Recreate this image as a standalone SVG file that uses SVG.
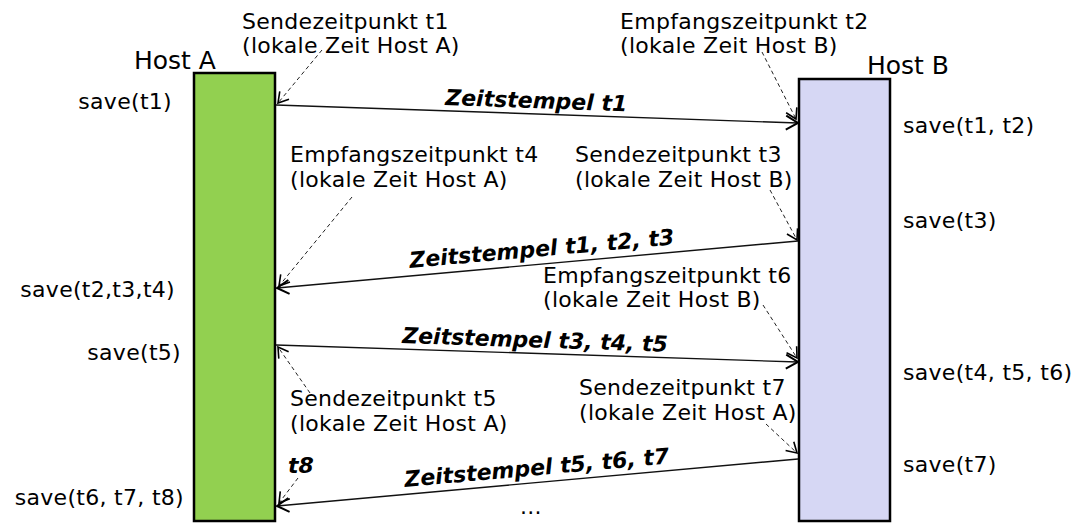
<svg xmlns="http://www.w3.org/2000/svg" width="1087" height="532" viewBox="0 0 1087 532">
<style>
text{font-family:"DejaVu Sans","Verdana",sans-serif;fill:#000}
.lbl{font-size:22px;letter-spacing:0.3px}
.host{font-size:25px}
.ts{font-size:22px;font-weight:bold;font-style:italic}
.msg{stroke:#111;stroke-width:1.4;fill:none}
.dash{stroke:#222;stroke-width:1;stroke-dasharray:4,3;fill:none}
</style>
<defs>
<marker id="ah" markerUnits="userSpaceOnUse" markerWidth="18" markerHeight="18" refX="14" refY="8" orient="auto">
<path d="M2,1 L14,8 L2,15" fill="none" stroke="#000" stroke-width="2"/>
</marker>
<marker id="ahd" markerUnits="userSpaceOnUse" markerWidth="16" markerHeight="16" refX="12" refY="7" orient="auto">
<path d="M2,1 L12,7 L2,13" fill="none" stroke="#000" stroke-width="1.6"/>
</marker>
</defs>
<rect width="1087" height="532" fill="#fff"/>
<g id="hostA">
<rect x="194" y="73" width="81" height="448" fill="#92d050" stroke="#000" stroke-width="2.5"/>
<text class="host" x="134" y="69">Host A</text>
</g>
<g id="hostB">
<rect x="799" y="79" width="91" height="442" fill="#d6d7f4" stroke="#000" stroke-width="2.5"/>
<text class="host" x="867" y="74">Host B</text>
</g>
<g id="connectors">
<line class="msg" x1="276" y1="105" x2="798" y2="123" marker-end="url(#ah)"/>
<line class="msg" x1="798" y1="241" x2="277" y2="288" marker-end="url(#ah)"/>
<line class="msg" x1="276" y1="345" x2="798" y2="362" marker-end="url(#ah)"/>
<line class="msg" x1="798" y1="459" x2="277" y2="506" marker-end="url(#ah)"/>
<line class="dash" x1="322" y1="50" x2="278" y2="103" marker-end="url(#ahd)"/>
<line class="dash" x1="762" y1="52" x2="796" y2="119" marker-end="url(#ahd)"/>
<line class="dash" x1="352" y1="197" x2="279" y2="286" marker-end="url(#ahd)"/>
<line class="dash" x1="770" y1="190" x2="797" y2="240" marker-end="url(#ahd)"/>
<line class="dash" x1="763" y1="305" x2="797" y2="358" marker-end="url(#ahd)"/>
<line class="dash" x1="310" y1="393" x2="278" y2="347" marker-end="url(#ahd)"/>
<line class="dash" x1="766" y1="424" x2="797" y2="453" marker-end="url(#ahd)"/>
<line class="dash" x1="298" y1="478" x2="279" y2="503" marker-end="url(#ahd)"/>
</g>
<g id="messageLabels">
<text class="ts" transform="translate(445,105) rotate(2)">Zeitstempel t1</text>
<text class="ts" transform="translate(410,268) rotate(-5.1)">Zeitstempel t1, t2, t3</text>
<text class="ts" transform="translate(402,343) rotate(1.9)">Zeitstempel t3, t4, t5</text>
<text class="ts" transform="translate(405,487) rotate(-5.1)">Zeitstempel t5, t6, t7</text>
<text class="ts" x="288" y="473">t8</text>
<text class="lbl" x="520" y="514">...</text>
</g>
<g id="annotations">
<text class="lbl" x="242" y="29">Sendezeitpunkt t1</text>
<text class="lbl" x="242" y="53">(lokale Zeit Host A)</text>
<text class="lbl" x="620" y="29">Empfangszeitpunkt t2</text>
<text class="lbl" x="620" y="53">(lokale Zeit Host B)</text>
<text class="lbl" x="290" y="162">Empfangszeitpunkt t4</text>
<text class="lbl" x="290" y="187">(lokale Zeit Host A)</text>
<text class="lbl" x="575" y="162">Sendezeitpunkt t3</text>
<text class="lbl" x="575" y="187">(lokale Zeit Host B)</text>
<text class="lbl" x="543" y="283">Empfangszeitpunkt t6</text>
<text class="lbl" x="543" y="307">(lokale Zeit Host B)</text>
<text class="lbl" x="290" y="406">Sendezeitpunkt t5</text>
<text class="lbl" x="290" y="431">(lokale Zeit Host A)</text>
<text class="lbl" x="579" y="395">Sendezeitpunkt t7</text>
<text class="lbl" x="579" y="420">(lokale Zeit Host A)</text>
</g>
<g id="saves">
<text class="lbl" x="172" y="109" text-anchor="end">save(t1)</text>
<text class="lbl" x="175" y="297" text-anchor="end">save(t2,t3,t4)</text>
<text class="lbl" x="181" y="360" text-anchor="end">save(t5)</text>
<text class="lbl" x="184" y="505" text-anchor="end">save(t6, t7, t8)</text>
<text class="lbl" x="903" y="133">save(t1, t2)</text>
<text class="lbl" x="903" y="228">save(t3)</text>
<text class="lbl" x="903" y="380">save(t4, t5, t6)</text>
<text class="lbl" x="903" y="472">save(t7)</text>
</g>
</svg>
